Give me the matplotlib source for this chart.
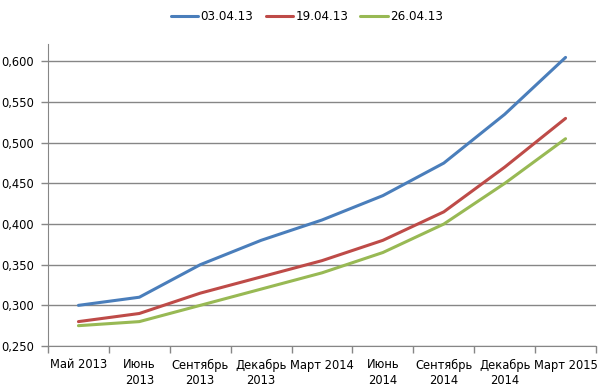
import matplotlib.pyplot as plt
from matplotlib.ticker import FuncFormatter

# data
categories = ['Май 2013', 'Июнь\n2013', 'Сентябрь\n2013', 'Декабрь\n2013', 'Март 2014',
              'Июнь\n2014', 'Сентябрь\n2014', 'Декабрь\n2014', 'Март 2015']
series_names = ['03.04.13', '19.04.13', '26.04.13']
s_0304 = [0.300, 0.310, 0.350, 0.380, 0.405, 0.435, 0.475, 0.535, 0.605]
s_1904 = [0.280, 0.290, 0.315, 0.335, 0.355, 0.380, 0.415, 0.470, 0.530]
s_2604 = [0.275, 0.280, 0.300, 0.320, 0.340, 0.365, 0.400, 0.450, 0.505]
colors = ['#4A7EBB', '#BE4B48', '#98B954']

fontSize = 8.3
fig = plt.figure(figsize=(6.05, 3.89), dpi=100)
ax = fig.add_axes([48/605, 43/389, 548/605, 302/389])

x = list(range(len(categories)))
for vals, name, c in zip([s_0304, s_1904, s_2604], series_names, colors):
    ax.plot(x, vals, color=c, lw=2.2, label=name, solid_capstyle='round')

ax.set_xlim(-0.5, len(categories) - 0.5)
ax.set_ylim(0.25, 0.6215)
ax.set_yticks([0.25, 0.30, 0.35, 0.40, 0.45, 0.50, 0.55, 0.60])
ax.yaxis.set_major_formatter(FuncFormatter(lambda v, p: ('%.3f' % v).replace('.', ',')))
ax.yaxis.grid(True, color='#868686', lw=1)
ax.set_axisbelow(True)

ax.set_xticks(x)
ax.set_xticklabels(categories, fontsize=fontSize)
ax.set_xticks([i - 0.5 for i in range(len(categories) + 1)], minor=True)
ax.tick_params(axis='x', which='major', length=0, pad=9)
ax.tick_params(axis='x', which='minor', length=5, color='#868686', width=1)
ax.tick_params(axis='y', length=5, color='#868686', width=1, labelsize=fontSize, pad=5)

for s in ['top', 'right']:
    ax.spines[s].set_visible(False)
for s in ['left', 'bottom']:
    ax.spines[s].set_color('#868686')

ax.legend(loc='center', bbox_to_anchor=(307/605, 1 - 17/389), bbox_transform=fig.transFigure,
          ncol=3, frameon=False, fontsize=8.6, handlelength=2.3, handletextpad=0.2,
          columnspacing=1.0)

fig.savefig('out.png', dpi=100)
